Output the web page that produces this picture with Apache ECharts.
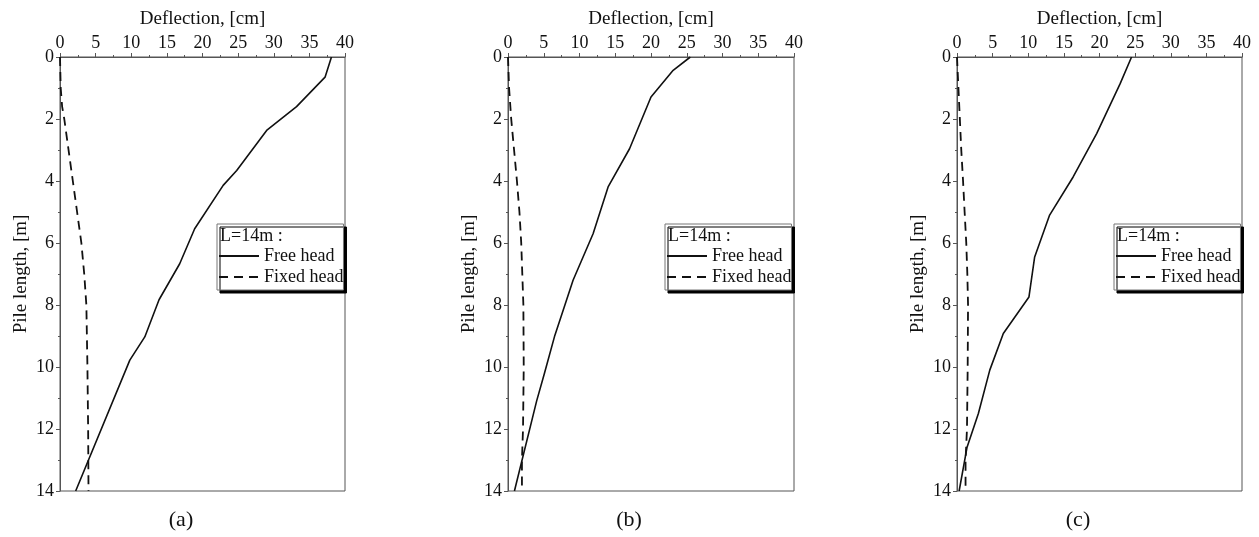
<!DOCTYPE html>
<html>
<head>
<meta charset="utf-8">
<script src="https://cdn.jsdelivr.net/npm/echarts@6/dist/echarts.min.js"></script>
<style>html,body{margin:0;padding:0;background:#fff}#c{width:1259px;height:537px}</style>
</head>
<body>
<div id="c"></div>
<script>
// Data: [deflection (cm), depth (m)]
const freeA = [[38.1,0],[37.2,0.65],[33.2,1.6],[29.0,2.37],[24.8,3.66],[22.9,4.14],[18.9,5.54],[16.8,6.67],[13.9,7.83],[11.9,9.03],[9.8,9.78],[2.2,14]];
const fixedA = [[0,0],[0.1,1.0],[0.3,1.6],[0.6,2],[1.2,3],[1.8,4],[2.4,5],[3.0,6],[3.4,7],[3.7,8],[3.85,10],[3.95,12],[4.0,14]];
const freeB = [[25.5,0],[23.1,0.43],[20.0,1.29],[17.0,2.96],[14.0,4.19],[11.9,5.7],[9.1,7.2],[6.55,8.98],[5.1,10.2],[4.0,11.1],[0.9,14]];
const fixedB = [[0,0],[0.15,1],[0.45,2],[0.85,3],[1.25,4],[1.6,5],[1.85,6],[2.0,7],[2.15,8],[2.2,10],[2.1,12],[1.95,13],[1.95,14]];
const freeC = [[24.5,0],[22.9,0.86],[19.6,2.47],[16.3,3.87],[13.0,5.1],[10.9,6.45],[10.1,7.74],[6.5,8.92],[4.6,10.1],[3.0,11.5],[1.4,12.6],[0.3,14]];
const fixedC = [[0,0],[0.2,1],[0.4,2],[0.6,3],[0.85,4],[1.07,5],[1.3,6],[1.45,7],[1.55,8],[1.5,10],[1.4,12],[1.2,13],[1.2,14]];
const panelLabels = ['(a)','(b)','(c)'];
const seriesNames = ['Free head','Fixed head'];
const legendTitle = 'L=14m :';
const xName = 'Deflection, [cm]';
const yName = 'Pile length, [m]';

const FONT = 'Liberation Serif, Times New Roman, serif';
const grids = [
  {left:60, top:57, width:285, height:434},
  {left:508, top:57, width:286, height:434},
  {left:957, top:57, width:285, height:434}
];
const panels = [[freeA, fixedA],[freeB, fixedB],[freeC, fixedC]];
const axisCol = '#555';

const option = {
  animation:false,
  backgroundColor:'#fff',
  grid: grids.map(g => Object.assign({show:true, borderColor:axisCol, borderWidth:1, backgroundColor:'transparent'}, g)),
  xAxis: grids.map((g,i) => ({
    gridIndex:i, type:'value', position:'top', min:0, max:40, interval:5,
    name:xName, nameLocation:'middle', nameGap:28,
    nameTextStyle:{fontFamily:FONT, fontSize:19, color:'#111'},
    axisLine:{show:true, lineStyle:{color:axisCol, width:1}},
    axisTick:{show:true, inside:false, length:4, lineStyle:{color:axisCol}},
    minorTick:{show:true, splitNumber:2, length:2, lineStyle:{color:axisCol}},
    splitLine:{show:false},
    axisLabel:{fontFamily:FONT, fontSize:18, color:'#111', margin:5}
  })),
  yAxis: grids.map((g,i) => ({
    gridIndex:i, type:'value', inverse:true, min:0, max:14, interval:2,
    name:yName, nameLocation:'middle', nameGap:29,
    nameTextStyle:{fontFamily:FONT, fontSize:19, color:'#111'},
    axisLine:{show:true, lineStyle:{color:axisCol, width:1}},
    axisTick:{show:true, inside:false, length:4, lineStyle:{color:axisCol}},
    minorTick:{show:true, splitNumber:2, length:2, lineStyle:{color:axisCol}},
    splitLine:{show:false},
    axisLabel:{fontFamily:FONT, fontSize:18, color:'#111', margin:6}
  })),
  legend: grids.map((g,i) => ({
    orient:'vertical', left:g.left+157, top:224,
    data:seriesNames, itemWidth:40, itemHeight:14, itemGap:3, selectedMode:false,
    padding:[23,0,4,1],
    backgroundColor:'#fff', borderColor:'#777', borderWidth:1,
    shadowColor:'#000', shadowBlur:0, shadowOffsetX:3, shadowOffsetY:3,
    itemStyle:{opacity:0},
    textStyle:{fontFamily:FONT, fontSize:18, color:'#111'},
    z:10
  })),
  graphic: grids.flatMap((g,i) => [
    {type:'text', left:g.left+160, top:227, z:100, style:{text:legendTitle, font:'18px '+FONT, fill:'#111'}},
    {type:'text', x:g.left+121, y:520, z:100, style:{text:panelLabels[i], font:'22px '+FONT, fill:'#111', textAlign:'center', textVerticalAlign:'middle'}}
  ]),
  series: panels.flatMap((p,i) => [
    {name:seriesNames[0], type:'line', xAxisIndex:i, yAxisIndex:i, data:p[0], symbol:'none', smooth:false,
     lineStyle:{color:'#111', width:1.6, type:'solid'}, itemStyle:{color:'#111'}},
    {name:seriesNames[1], type:'line', xAxisIndex:i, yAxisIndex:i, data:p[1], symbol:'none', smooth:false,
     lineStyle:{color:'#111', width:1.8, type:[9,6]}, itemStyle:{color:'#111'}}
  ])
};
const chart = echarts.init(document.getElementById('c'), null, {renderer:'canvas'});
chart.setOption(option);
</script>
</body>
</html>
